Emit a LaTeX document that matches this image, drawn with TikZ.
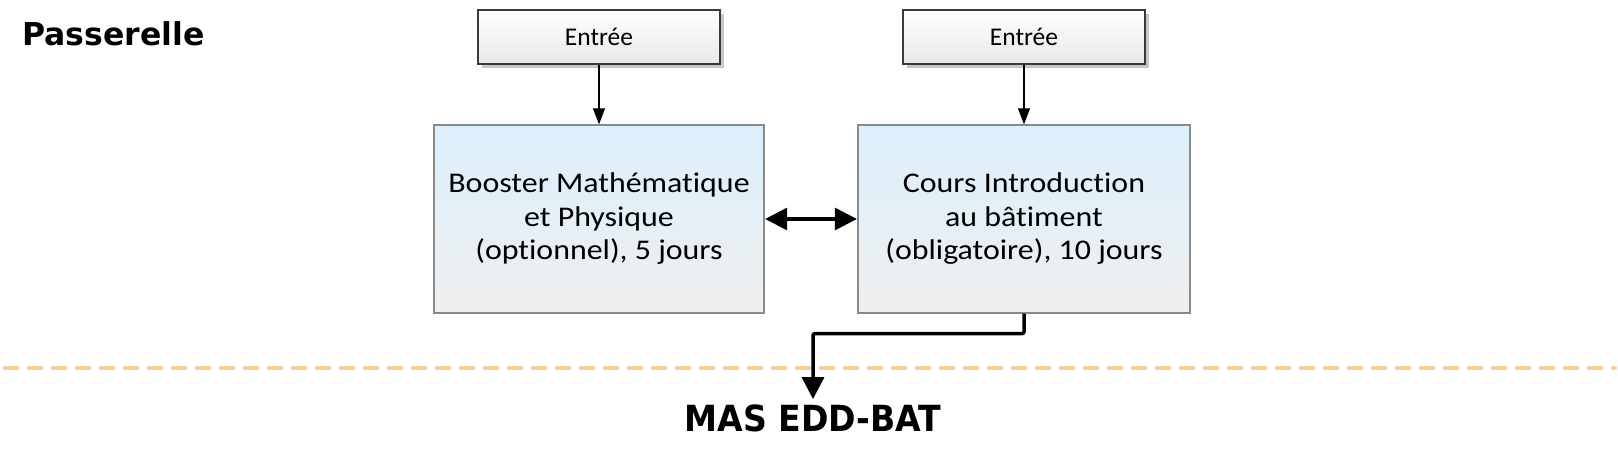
\documentclass[tikz,border=0pt]{standalone}
\usepackage{fontspec}
\setmainfont{Carlito}[Ligatures=NoCommon]
\newfontfamily\boxfont[FakeStretch=1.12,Ligatures=NoCommon]{Carlito}
\newfontfamily\titlefont{DejaVu Sans}
\newfontfamily\masfont[FakeStretch=0.92]{DejaVu Sans}
\usetikzlibrary{arrows.meta,shadows}
\definecolor{boxtop}{HTML}{DCEFFC}
\definecolor{boxbot}{HTML}{EFEFEF}
\definecolor{boxline}{HTML}{8A8A8A}
\definecolor{entline}{HTML}{3A3A3A}
\definecolor{entbot}{HTML}{E8E8E8}
\definecolor{dashcol}{HTML}{FDCB96}
\tikzset{
  entreebox/.style={draw=entline, line width=1.8pt, top color=white, bottom color=entbot,
    minimum width=242pt, minimum height=54pt, inner sep=0pt,
    drop shadow={shadow xshift=4pt, shadow yshift=-4pt, fill=black!22, opacity=1},
    font=\fontsize{25.5}{30}\selectfont},
  mainbox/.style={draw=boxline, line width=1.3pt, top color=boxtop, bottom color=boxbot,
    minimum height=188pt, inner sep=0pt, align=center,
    font=\boxfont\fontsize{28.5}{33.5}\selectfont},
  thinarrow/.style={line width=1.1pt, -{Triangle[length=16pt,width=12pt]}},
  dblarrow/.style={line width=3.2pt, {Triangle[length=22pt,width=22pt]}-{Triangle[length=22pt,width=22pt]}, shorten <=0.5pt, shorten >=0.5pt},
  bigarrow/.style={line width=3.5pt, -{Triangle[length=22pt,width=22pt]}, rounded corners=2pt},
  heading/.style={inner sep=0pt, font=\titlefont\bfseries\fontsize{31.5}{36}\selectfont},
}
\begin{document}
\begin{tikzpicture}[x=1pt,y=-1pt]
\useasboundingbox[fill=white] (0,0) rectangle (1618,458);
% dashed separator
\draw[dashcol, line width=4pt, dash pattern=on 12pt off 12pt, line cap=round] (5,368) -- (1615,368);
% title
\node[heading, anchor=base west] (pass) at (22,45) {Passerelle};
% boxes
\node[entreebox] (e1) at (599,37) {Entrée};
\node[entreebox] (e2) at (1024,37) {Entrée};
\node[mainbox, minimum width=330pt] (b1) at (599,219) {Booster Mathématique\\et Physique\\(optionnel), 5 jours};
\node[mainbox, minimum width=332pt] (b2) at (1024,219) {Cours Introduction\\au bâtiment\\(obligatoire), 10 jours};
% bottom label
\node[inner sep=0pt, anchor=base, font=\masfont\bfseries\fontsize{36}{40}\selectfont] (mas) at (813,431) {MAS EDD-BAT};
% connectors
\draw[thinarrow] (e1.south) -- (b1.north);
\draw[thinarrow] (e2.south) -- (b2.north);
\draw[dblarrow] (b1.east) -- (b2.west);
\draw[bigarrow] (b2.south) -- ++(0,20) -| ([yshift=5pt]mas.north);
\end{tikzpicture}
\end{document}
